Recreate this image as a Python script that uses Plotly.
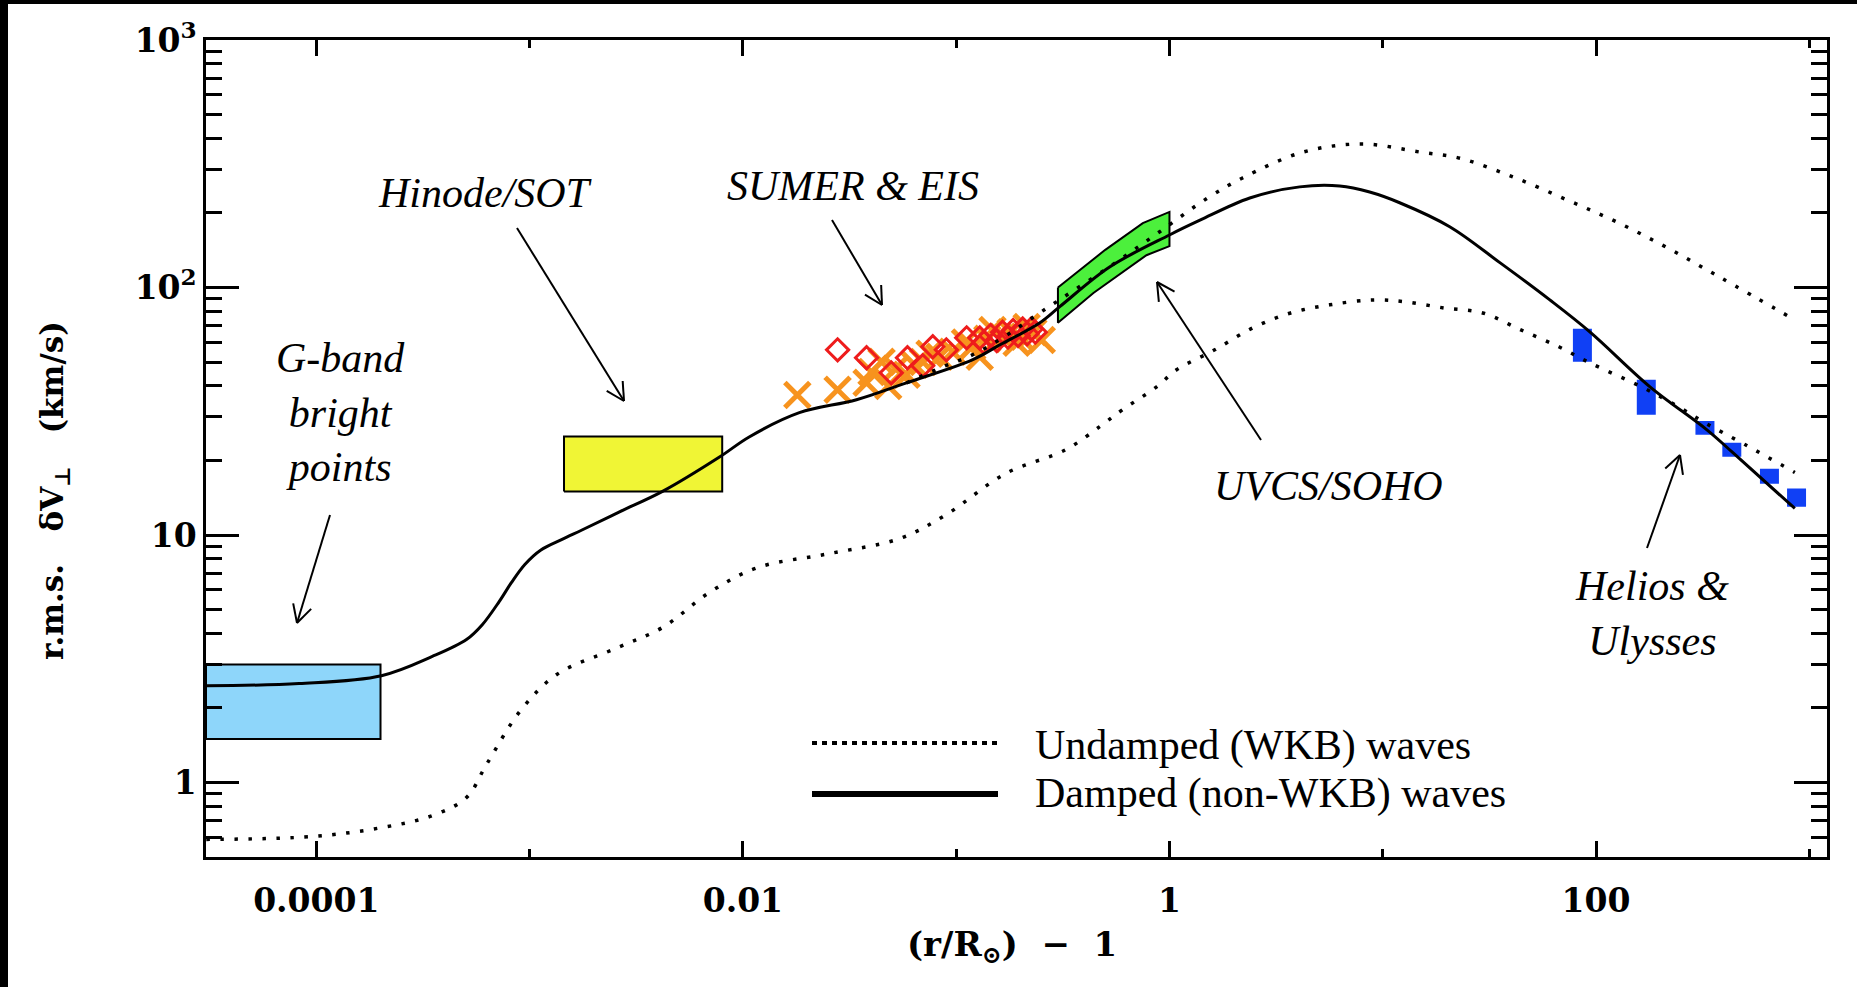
import math
import plotly.graph_objects as go

# ---------------- data ----------------
X_RANGE = [3.04e-5, 1210.0]
Y_RANGE = [0.5, 1000.0]

# Damped (non-WKB) model
DAMPED_X = [3.05e-5, 8.3e-5, 2.02e-4, 3.5e-4, 5.06e-4, 6.0e-4, 7.2e-4, 8.2e-4, 9.5e-4, 1.13e-3,
            1.42e-3, 1.77e-3, 2.64e-3, 4.2e-3, 7.8e-3, 1.07e-2, 1.84e-2, 3.41e-2, 5.85e-2, 0.119,
            0.160, 0.246, 0.305, 0.524, 1.0, 1.39, 2.38, 4.08, 6.28, 8.68,
            12.0, 20.6, 35.4, 60.7, 93.5, 179.0, 331.0, 438.0, 855.0]
DAMPED_Y = [2.46, 2.51, 2.70, 3.23, 3.78, 4.34, 5.38, 6.4, 7.6, 8.7,
            9.6, 10.5, 12.4, 15.0, 20.7, 24.9, 31.2, 35.2, 41.2, 51.0,
            58.6, 71.9, 83.5, 121.0, 163.0, 187.0, 230.0, 255.0, 257.0, 243.0,
            220.0, 176.0, 126.0, 89.1, 66.2, 39.7, 26.6, 21.5, 12.8]

# Undamped (WKB) model, upper branch
WKB_UP_X = [0.0585, 0.085, 0.119, 0.165, 0.246, 0.315, 0.536, 0.90, 1.51, 2.20,
            4.21, 7.97, 15.1, 23.0, 40.7, 73.0, 125.0, 215.0, 381.0, 855.0]
WKB_UP_Y = [41.2, 47.5, 53.4, 62.6, 78.9, 90.8, 123.0, 168.0, 230.0, 277.0,
            352.0, 380.0, 352.0, 333.0, 280.0, 226.0, 184.0, 145.0, 110.0, 74.0]

# Undamped (WKB) model, lower branch
WKB_LO_X = [3.05e-5, 9.6e-5, 2.04e-4, 3.5e-4, 5.06e-4, 6.27e-4, 9.06e-4, 1.34e-3, 2.53e-3, 4.2e-3,
            7.05e-3, 1.17e-2, 2.52e-2, 5.4e-2, 9.0e-2, 0.17, 0.326, 0.471, 0.603, 0.871,
            1.08, 1.63, 2.46, 3.70, 5.64, 9.07, 12.8, 19.3, 29.4, 44.4,
            66.9, 93.5, 166.0, 247.0, 331.0, 499.0, 855.0]
WKB_LO_Y = [0.589, 0.605, 0.658, 0.735, 0.87, 1.18, 1.95, 2.73, 3.48, 4.23,
            5.90, 7.38, 8.4, 9.66, 12.1, 17.7, 22.1, 27.4, 32.1, 39.7,
            46.5, 56.0, 68.7, 78.9, 85.1, 89.1, 87.5, 82.7, 78.9, 67.4,
            57.6, 49.6, 39.4, 32.7, 28.1, 23.2, 17.9]

# Observations
GBAND_X = [X_RANGE[0], 2.0e-4]
GBAND_Y = [1.5, 3.0]
HINODE_X = [1.45e-3, 8.0e-3]
HINODE_Y = [15.0, 25.0]
UVCS_UPPER_X = [0.30, 0.50, 0.75, 1.0]
UVCS_UPPER_Y = [100.0, 142.0, 182.0, 202.0]
UVCS_LOWER_X = [0.30, 0.44, 0.78, 1.0]
UVCS_LOWER_Y = [72.0, 95.0, 135.0, 147.0]
HELIOS_X = [86.3, 172.0, 324.0, 433.0, 650.0, 871.0]
HELIOS_YLO = [50.1, 30.6, 25.4, 20.7, 16.1, 13.0]
HELIOS_YHI = [68.1, 42.4, 28.9, 23.6, 18.5, 15.4]

CROSS_X = [0.0180, 0.0278, 0.0380, 0.0401, 0.0447, 0.048, 0.052, 0.0585, 0.0638, 0.070,
           0.075, 0.0835, 0.0961, 0.11, 0.119, 0.129, 0.14, 0.148, 0.165, 0.18,
           0.192, 0.20, 0.214, 0.23, 0.252]
CROSS_Y = [36.8, 38.6, 41.2, 45.6, 50.1, 40.0, 47.0, 44.4, 48.7, 50.0,
           54.0, 52.5, 55.0, 60.0, 57.6, 52.5, 62.0, 67.4, 63.2, 66.0,
           59.8, 63.0, 69.3, 66.0, 61.4]

DIAMOND_X = [0.0278, 0.0380, 0.0496, 0.0591, 0.0697, 0.0777, 0.0899, 0.112, 0.129, 0.135,
             0.145, 0.155, 0.165, 0.175, 0.185, 0.195, 0.205, 0.215, 0.225, 0.235]
DIAMOND_Y = [56.0, 52.0, 45.2, 52.0, 48.3, 57.6, 56.0, 62.6, 62.6, 60.0,
             64.0, 61.0, 66.0, 63.0, 67.0, 64.0, 68.0, 65.0, 68.0, 66.0]

X_TICKVALS = [1e-4, 1e-2, 1, 100]
X_TICKTEXT = ["0.0001", "0.01", "1", "100"]
X_MINORVALS = [1e-3, 1e-1, 10, 1000]
Y_TICKVALS = [1, 10, 100, 1000]
Y_TICKTEXT = ["1", "10", "10<sup>2</sup>", "10<sup>3</sup>"]
Y_MINORVALS = [m * 10 ** e for e in range(-1, 3) for m in range(2, 10) if m * 10 ** e > 0.5]

# ---------------- layout geometry (pixels) ----------------
W, H = 1857, 987
PL, PR, PT, PB = 206, 1827, 40, 857


def px(x):
    return (x - PL) / (PR - PL)


def py(y):
    return (PB - y) / (PB - PT)


def rect(xr, yr):
    return [xr[0], xr[1], xr[1], xr[0], xr[0]], [yr[0], yr[0], yr[1], yr[1], yr[0]]


fig = go.Figure()

# filled boxes
bx, by = rect(GBAND_X, GBAND_Y)
fig.add_trace(go.Scatter(x=bx, y=by, mode="lines", fill="toself", fillcolor="#8ED6FA",
                         line=dict(color="black", width=2)))
bx, by = rect(HINODE_X, HINODE_Y)
fig.add_trace(go.Scatter(x=bx, y=by, mode="lines", fill="toself", fillcolor="#F0F535",
                         line=dict(color="black", width=2)))
gx = UVCS_UPPER_X + UVCS_LOWER_X[::-1] + UVCS_UPPER_X[:1]
gy = UVCS_UPPER_Y + UVCS_LOWER_Y[::-1] + UVCS_UPPER_Y[:1]
fig.add_trace(go.Scatter(x=gx, y=gy, mode="lines", fill="toself", fillcolor="#4CF03C",
                         line=dict(color="black", width=2)))

HALF_W = 10 ** 0.0445
hx, hy = [], []
for xc, lo, hi in zip(HELIOS_X, HELIOS_YLO, HELIOS_YHI):
    rx, ry = rect([xc / HALF_W, xc * HALF_W], [lo, hi])
    hx += rx + [None]
    hy += ry + [None]
fig.add_trace(go.Scatter(x=hx, y=hy, mode="lines", fill="toself", fillcolor="#1040F5",
                         line=dict(color="#1040F5", width=0)))

# markers
fig.add_trace(go.Scatter(x=CROSS_X, y=CROSS_Y, mode="markers",
                         marker=dict(symbol="x-thin", size=25, color="#F7931E",
                                     line=dict(color="#F7931E", width=5))))
fig.add_trace(go.Scatter(x=DIAMOND_X, y=DIAMOND_Y, mode="markers",
                         marker=dict(symbol="diamond-open", size=17, color="#EE1C1C",
                                     line=dict(color="#EE1C1C", width=3))))

# model curves
DOT = "3.5px,10.5px"
fig.add_trace(go.Scatter(x=WKB_LO_X, y=WKB_LO_Y, mode="lines", line_shape="spline",
                         line=dict(color="black", width=3.5, dash=DOT)))
fig.add_trace(go.Scatter(x=WKB_UP_X, y=WKB_UP_Y, mode="lines", line_shape="spline",
                         line=dict(color="black", width=3.5, dash=DOT)))
fig.add_trace(go.Scatter(x=DAMPED_X, y=DAMPED_Y, mode="lines", line_shape="spline",
                         line=dict(color="black", width=3)))

# ---------------- annotations ----------------
ITAL = dict(family="Liberation Serif", size=42, color="black", style="italic")
labels = [
    ("G-band<br>bright<br>points", 340, 413),
    ("Hinode/SOT", 485, 193),
    ("SUMER &amp; EIS", 853, 186),
    ("UVCS/SOHO", 1328, 486),
    ("Helios &amp;<br>Ulysses", 1652, 613),
]
for txt, x, y in labels:
    fig.add_annotation(text=txt, x=px(x), y=py(y), xref="paper", yref="paper",
                       showarrow=False, font=ITAL, xanchor="center", yanchor="middle")

arrows = [  # tail (x,y) -> head (x,y) in pixels
    ((330, 515), (297, 623)),
    ((517, 228), (624, 401)),
    ((832, 220), (882, 305)),
    ((1261, 440), (1157, 282)),
    ((1647, 548), (1680, 455)),
]
ARM_LEN, ARM_ANG = 20.0, math.radians(28)
for (tx, ty), (hx_, hy_) in arrows:
    fig.add_shape(type="line", xref="paper", yref="paper", x0=px(tx), y0=py(ty),
                  x1=px(hx_), y1=py(hy_), line=dict(color="black", width=2))
    ang = math.atan2(ty - hy_, tx - hx_)
    for s in (-1, 1):
        a = ang + s * ARM_ANG
        ex, ey = hx_ + ARM_LEN * math.cos(a), hy_ + ARM_LEN * math.sin(a)
        fig.add_shape(type="line", xref="paper", yref="paper", x0=px(hx_), y0=py(hy_),
                      x1=px(ex), y1=py(ey), line=dict(color="black", width=2))

# legend (drawn by hand)
fig.add_shape(type="line", xref="paper", yref="paper", x0=px(812), x1=px(998),
              y0=py(743), y1=py(743), line=dict(color="black", width=4, dash="5px,5px"))
fig.add_shape(type="line", xref="paper", yref="paper", x0=px(812), x1=px(998),
              y0=py(794), y1=py(794), line=dict(color="black", width=6))
LEG = dict(family="Liberation Serif", size=42, color="black")
fig.add_annotation(text="Undamped (WKB) waves", x=px(1033), y=py(745), xref="paper", yref="paper",
                   showarrow=False, font=LEG, xanchor="left", yanchor="middle")
fig.add_annotation(text="Damped (non-WKB) waves", x=px(1033), y=py(793), xref="paper", yref="paper",
                   showarrow=False, font=LEG, xanchor="left", yanchor="middle")

# axis titles
NB = "\u00a0"
YT = dict(family="DejaVu Serif", size=31, color="black", weight="bold")
XT = dict(family="DejaVu Serif", size=34, color="black", weight="bold")
fig.add_annotation(text="r.m.s." + NB * 3 + "δV<sub>⊥</sub>" + NB * 3 + "(km/s)", x=px(54), y=py(491),
                   xref="paper", yref="paper", showarrow=False, textangle=-90, font=YT,
                   xanchor="center", yanchor="middle")
fig.add_annotation(text="(r/R<sub>⊙</sub>)" + NB * 2 + "−" + NB * 2 + "1", x=px(1012), y=py(947),
                   xref="paper", yref="paper", showarrow=False, font=XT,
                   xanchor="center", yanchor="middle")

# black frame bits at the left and top edges of the picture
fig.add_shape(type="rect", xref="paper", yref="paper", x0=px(0), x1=px(8), y0=py(H), y1=py(0),
              fillcolor="black", line=dict(width=0), layer="above")
fig.add_shape(type="rect", xref="paper", yref="paper", x0=px(0), x1=px(W), y0=py(4), y1=py(0),
              fillcolor="black", line=dict(width=0), layer="above")

TICKFONT = dict(family="DejaVu Serif", size=33, color="black", weight="bold")
fig.update_xaxes(type="log", range=[math.log10(X_RANGE[0]), math.log10(X_RANGE[1])],
                 showline=True, linecolor="black", linewidth=2.5, mirror="ticks",
                 ticks="inside", ticklen=16, tickwidth=2.5, tickcolor="black",
                 tickmode="array", tickvals=X_TICKVALS, ticktext=X_TICKTEXT,
                 tickfont=TICKFONT, ticklabelstandoff=13, showgrid=False, zeroline=False,
                 minor=dict(tickmode="array", tickvals=X_MINORVALS, ticks="inside", ticklen=8,
                            tickwidth=2.5, tickcolor="black", showgrid=False))
fig.update_yaxes(type="log", range=[math.log10(Y_RANGE[0]), math.log10(Y_RANGE[1])],
                 showline=True, linecolor="black", linewidth=2.5, mirror="ticks",
                 ticks="inside", ticklen=33, tickwidth=2.5, tickcolor="black",
                 tickmode="array", tickvals=Y_TICKVALS, ticktext=Y_TICKTEXT,
                 tickfont=TICKFONT, ticklabelstandoff=0, showgrid=False, zeroline=False,
                 minor=dict(tickmode="array", tickvals=Y_MINORVALS, ticks="inside", ticklen=16,
                            tickwidth=2.5, tickcolor="black", showgrid=False))

fig.update_layout(width=W, height=H, showlegend=False,
                  margin=dict(l=PL, r=W - PR, t=PT, b=H - PB),
                  paper_bgcolor="white", plot_bgcolor="white")

fig.write_html("out.html", config={"displayModeBar": False},
               post_script="document.body.style.margin='0';document.body.style.padding='0';"
                           "document.body.style.overflow='hidden';")
